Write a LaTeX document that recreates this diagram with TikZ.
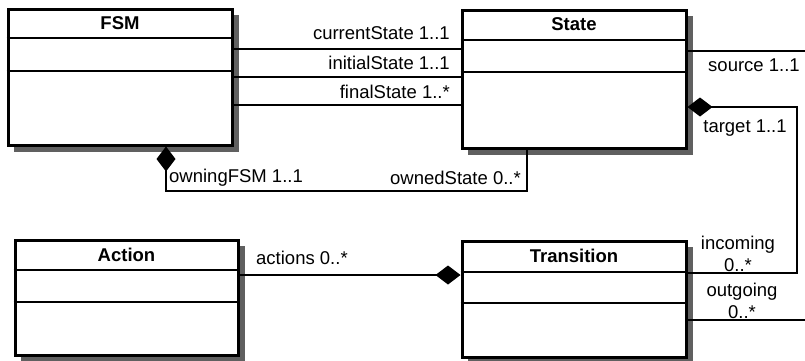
\documentclass[tikz,border=0pt]{standalone}
\usepackage{fontspec}
\setmainfont{Liberation Sans}
\usepackage{tikz}
\usetikzlibrary{arrows.meta,positioning}
\definecolor{shadegray}{RGB}{96,96,96}
\tikzset{class box/.style={draw, line width=3pt, fill=white, inner sep=0pt}}
\tikzset{class name/.style={font=\fontsize{18.5}{22}\selectfont\bfseries, inner sep=0pt}}
\tikzset{role label/.style={font=\fontsize{18.5}{22}\selectfont, inner sep=0pt, align=center}}
\tikzset{compartment/.style={line width=2.2pt}}
\tikzset{regular edge/.style={draw=black, line width=1.3pt}}
\tikzset{owner edge/.style={regular edge, arrows={Diamond[length=25pt, width=19pt]-}}}

\begin{document}
\begin{tikzpicture}
          [x=1pt, y=-1pt]
          \useasboundingbox (0,0) rectangle (805,360);
          % shades first
          \fill [shadegray] (14, 15) rectangle (239,152);
          \fill [shadegray] (468,16) rectangle (693,155);
          \fill [shadegray] (21,246) rectangle (245,362);
          \fill [shadegray] (468,247) rectangle (693,364);
          % classes
          \node [class box, minimum width=224pt, minimum height=136pt] (fsm)        at (120, 77) {};
          \node [class box, minimum width=224pt, minimum height=138pt] (state)      at (574, 79) {};
          \node [class box, minimum width=223pt, minimum height=115pt] (action)     at (126.5,297.5) {};
          \node [class box, minimum width=224pt, minimum height=116pt] (transition) at (574,299) {};

          \node [class name] (fsm name)        at (fsm.north |- 0,23)        {FSM};
          \node [class name] (state name)      at (state.north |- 0,24)      {State};
          \node [class name] (action name)     at (action.north |- 0,255)    {Action};
          \node [class name] (transition name) at (transition.north |- 0,256) {Transition};

          \draw [compartment] (fsm.west |- 0,38)         -- (fsm.east |- 0,38);
          \draw [compartment] (fsm.west |- 0,71)         -- (fsm.east |- 0,71);
          \draw [compartment] (state.west |- 0,40)       -- (state.east |- 0,40);
          \draw [compartment] (state.west |- 0,72)       -- (state.east |- 0,72);
          \draw [compartment] (action.west |- 0,270)     -- (action.east |- 0,270);
          \draw [compartment] (action.west |- 0,302)     -- (action.east |- 0,302);
          \draw [compartment] (transition.west |- 0,272) -- (transition.east |- 0,272);
          \draw [compartment] (transition.west |- 0,303) -- (transition.east |- 0,303);

          % associations
          \coordinate (source end)   at (805, 51);
          \coordinate (outgoing end) at (805,320);

          \draw [regular edge] (fsm.east |- 0,49)  -- (state.west |- 0,49);
          \draw [regular edge] (fsm.east |- 0,77)  -- (state.west |- 0,77);
          \draw [regular edge] (fsm.east |- 0,105) -- (state.west |- 0,105);
          \draw [owner edge]   (fsm.south -| 166,0) -- (166,191) -| (state.south -| 527,0);
          \draw [regular edge] (state.east |- source end) -- (source end);
          \draw [owner edge]   (state.east |- 0,107) -- (797,107) |- (transition.east |- 0,273);
          \draw [regular edge] (transition.east |- outgoing end) -- (outgoing end);
          \draw [owner edge]   (transition.west |- 0,275) -- (action.east |- 0,275);

          % roles
          \node [role label, anchor=east] (current role) at (450, 33) {currentState 1..1};
          \node [role label, anchor=east] (initial role) at (450, 63) {initialState 1..1};
          \node [role label, anchor=east] (final role)   at (450, 92) {finalState 1..*};
          \node [role label, anchor=west] (owning role)  at (169,178) {owningFSM 1..1};
          \node [role label, anchor=east] (owned role)   at (521,178) {ownedState 0..*};
          \node [role label]              (source role)  at (754, 65) {source 1..1};
          \node [role label]              (target role)  at (745,128) {target 1..1};
          \node [role label, anchor=west] (actions role) at (256,258) {actions 0..*};
          \node [role label]              (in role)      at (738,254) {incoming\\0..*};
          \node [role label]              (out role)     at (742,301) {outgoing\\0..*};
        \end{tikzpicture}
\end{document}
